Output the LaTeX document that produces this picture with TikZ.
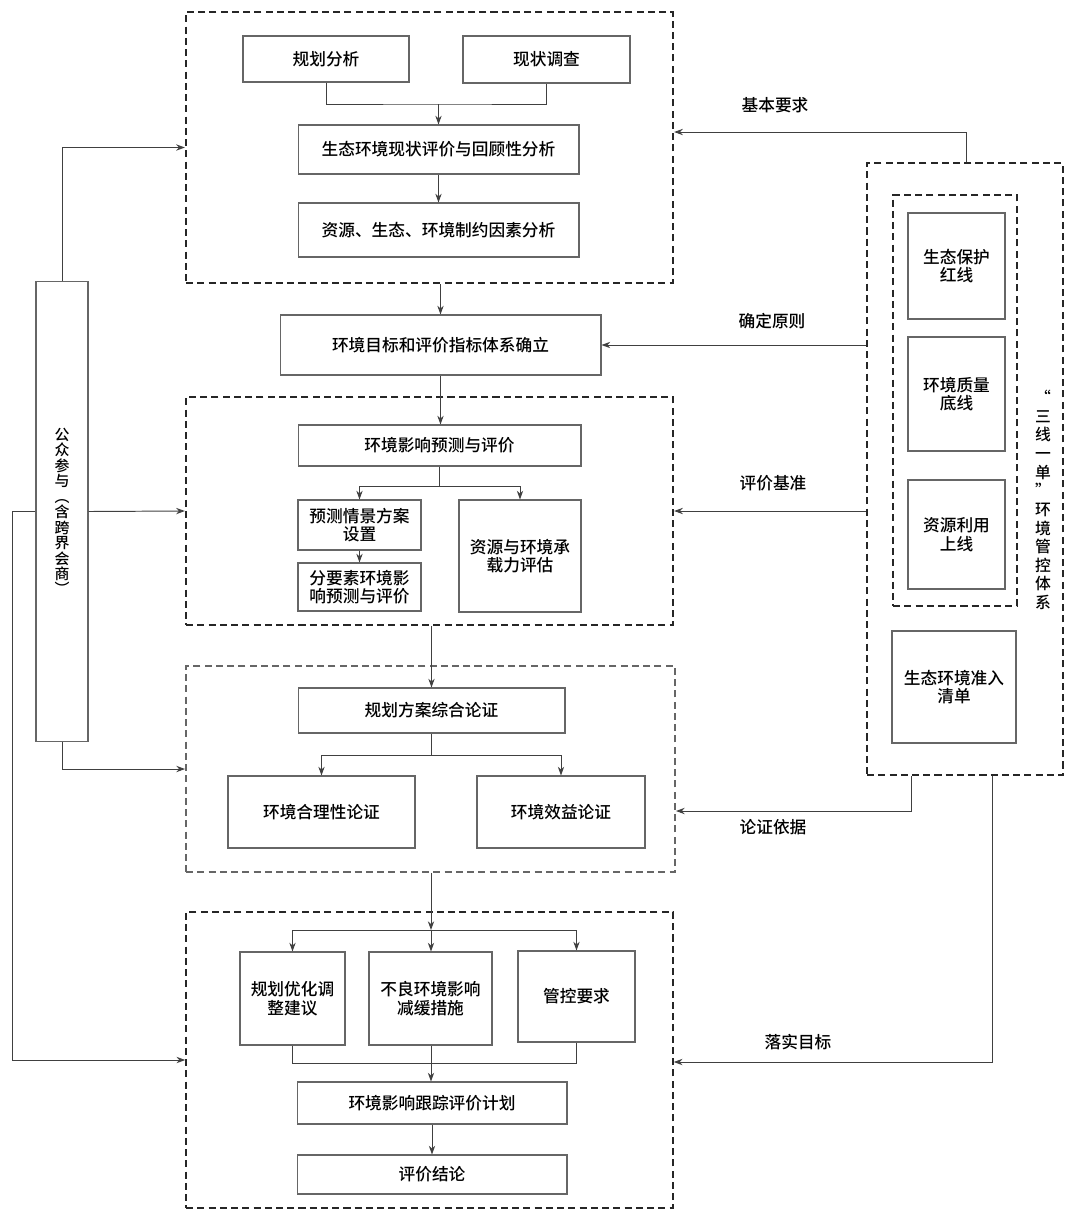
\documentclass[tikz,border=0pt]{standalone}
\usepackage{fontspec}
\setmainfont{Noto Sans CJK SC}[UprightFont={* Medium}]
\usetikzlibrary{arrows.meta, positioning}

\begin{document}
\begin{tikzpicture}[x=0.02cm, y=-0.02cm,
  box/.style={draw=black!60, line width=0.6pt, align=center, inner sep=1pt, font=\fontsize{9.5}{10.5}\selectfont},
  grp/.style={draw=black!85, line width=1.3pt, dash pattern=on 4pt off 2.4pt},
  arr/.style={-{Stealth[length=5pt,width=3.6pt]}, line width=0.55pt, draw=black!75},
  lnk/.style={line width=0.55pt, draw=black!75},
  lab/.style={font=\fontsize{9.5}{10.5}\selectfont}
]
\useasboundingbox (0,0) rectangle (1065,1211);

% dashed groups
\node[grp, minimum width=9.74cm, minimum height=5.42cm] (g1) at (429.5,147.5) {};
\node[grp, minimum width=9.74cm, minimum height=4.56cm] (g3) at (429.5,511) {};
\node[grp, draw=black!60, line width=1.1pt, minimum width=9.78cm, minimum height=4.12cm] (g4) at (430.5,769) {};
\node[grp, line width=0.9pt, minimum width=9.74cm, minimum height=5.92cm] (g5) at (429.5,1060) {};
\node[grp, minimum width=3.92cm, minimum height=12.24cm] (tg) at (965,469) {};
\node[grp, line width=1pt, minimum width=2.48cm, minimum height=8.22cm] (ig) at (955,400.5) {};

% current state
\node[box, minimum width=3.32cm, minimum height=0.92cm] (gh) at (326,59) {规划分析};
\node[box, minimum width=3.34cm, minimum height=0.94cm] (xz) at (546.5,59.5) {现状调查};
\node[box, minimum width=5.62cm, minimum height=0.98cm] (pj) at (438.5,149.5) {生态环境现状评价与回顾性分析};
\node[box, minimum width=5.62cm, minimum height=1.08cm] (zy) at (438.5,230) {资源、生态、环境制约因素分析};
\node[box, minimum width=6.42cm, minimum height=1.2cm] (mb) at (440.5,345) {环境目标和评价指标体系确立};

% prediction
\node[box, minimum width=5.66cm, minimum height=0.82cm] (yc) at (439.5,445.5) {环境影响预测与评价};
\node[box, minimum width=2.46cm, minimum height=1.0cm] (qj) at (359.5,525) {预测情景方案\\设置};
\node[box, minimum width=2.46cm, minimum height=0.96cm] (fy) at (359.5,587) {分要素环境影\\响预测与评价};
\node[box, minimum width=2.44cm, minimum height=2.24cm] (cz) at (520,556) {资源与环境承\\载力评估};

% argument
\node[box, minimum width=5.34cm, minimum height=0.9cm] (lz) at (431.5,710.5) {规划方案综合论证};
\node[box, minimum width=3.74cm, minimum height=1.44cm] (hl) at (321.5,812) {环境合理性论证};
\node[box, minimum width=3.36cm, minimum height=1.44cm] (xy) at (561,812) {环境效益论证};

% conclusions
\node[box, minimum width=2.1cm, minimum height=1.86cm] (yh) at (292.5,998.5) {规划优化调\\整建议};
\node[box, minimum width=2.46cm, minimum height=1.86cm] (jh) at (430.5,998.5) {不良环境影响\\减缓措施};
\node[box, minimum width=2.34cm, minimum height=1.82cm] (gk) at (576.5,996.5) {管控要求};
\node[box, minimum width=5.4cm, minimum height=0.84cm] (gz) at (432,1103) {环境影响跟踪评价计划};
\node[box, minimum width=5.4cm, minimum height=0.78cm] (jl) at (432,1174.5) {评价结论};

% public participation
\node[box, minimum width=1.04cm, minimum height=9.22cm, font=\fontsize{8.5}{8.8}\selectfont] (gz2) at (62,511.5)
  {公\\众\\参\\与\\︵\\含\\跨\\界\\会\\商\\︶};

% three lines one list
\node[box, minimum width=1.94cm, minimum height=2.12cm] (hx) at (956.5,266) {生态保护\\红线};
\node[box, minimum width=1.94cm, minimum height=2.28cm] (dx) at (956.5,394) {环境质量\\底线};
\node[box, minimum width=1.94cm, minimum height=2.18cm] (sx) at (956.5,534.5) {资源利用\\上线};
\node[box, minimum width=2.48cm, minimum height=2.24cm] (qd) at (954,687) {生态环境准入\\清单};
\node[align=center, font=\fontsize{9}{10.6}\selectfont] (sxyd) at (1043,500)
  {“\\三\\线\\一\\单\\”\\环\\境\\管\\控\\体\\系};

% labels
\node[lab] (l1) at (775,105) {基本要求};
\node[lab] (l2) at (772,321) {确定原则};
\node[lab] (l3) at (773,483) {评价基准};
\node[lab] (l4) at (773,827) {论证依据};
\node[lab] (l5) at (798,1042) {落实目标};

% bends
\coordinate (m1) at (438.5,104);
\coordinate (b4) at (431.5,755);
\coordinate (b5) at (431,930);
\coordinate (m5) at (431,1063);
\coordinate (lft) at (12,511.5);
\coordinate (k1) at (966,132);
\coordinate (k4) at (911,811);
\coordinate (k5) at (992,1062);

% main flow
\draw[lnk] (gh.south) |- (m1) -| (xz.south);
\draw[arr] (m1) -- (pj.north);
\draw[arr] (pj) -- (zy);
\draw[arr] (g1.south -| mb.north) -- (mb.north);
\draw[arr] (mb.south) -- (mb.south |- yc.north);
\draw[arr] (yc.south) -- ++(0,20) -| (qj.north);
\draw[arr] (yc.south) -- ++(0,20) -| (cz.north);
\draw[arr] (qj) -- (fy);
\draw[arr] (g3.south -| lz.north) -- (lz.north);
\draw[lnk] (lz.south) -- (b4);
\draw[arr] (b4) -| (hl.north);
\draw[arr] (b4) -| (xy.north);
\draw[arr] (g4.south -| b5) -- (b5);
\draw[arr] (b5) -| (yh.north);
\draw[arr] (b5) -- (b5 |- jh.north);
\draw[arr] (b5) -| (gk.north);
\draw[lnk] (yh.south) |- (m5) -| (gk.south);
\draw[lnk] (m5 |- jh.south) -- (m5);
\draw[arr] (m5) -- (m5 |- gz.north);
\draw[arr] (gz) -- (jl);

% public participation links
\draw[arr] (gz2.north) |- (g1.west);
\draw[arr] (gz2.east) -- (g3.west);
\draw[arr] (gz2.south) |- (g4.west);
\draw[arr] (gz2.west) -- (lft) |- (g5.west);

% control system links
\draw[arr] (tg.north -| k1) -- (k1) -- (k1 -| g1.east);
\draw[arr] (mb.east -| tg.west) -- (mb.east);
\draw[arr] (g3.east -| tg.west) -- (g3.east);
\draw[arr] (tg.south -| k4) -- (k4) -- (k4 -| g4.east);
\draw[arr] (tg.south -| k5) -- (k5) -- (k5 -| g5.east);
\end{tikzpicture}
\end{document}
